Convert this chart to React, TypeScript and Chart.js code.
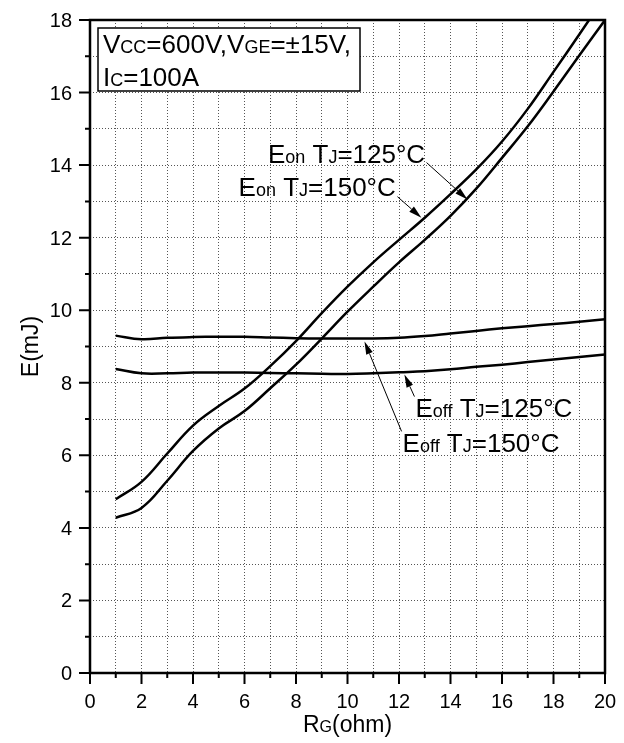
import React, { useEffect, useRef } from 'react';
import { Chart, registerables } from 'chart.js';

Chart.register(...registerables);

// ---- data ----
const rg = [1, 2, 3, 4, 5, 6, 7, 8, 9, 10, 11, 12, 13, 14, 15, 16, 17, 18, 19, 20];
const eon150 = [4.79, 5.27, 6.05, 6.82, 7.36, 7.84, 8.46, 9.15, 9.92, 10.65, 11.32, 11.94, 12.55, 13.2, 13.88, 14.65, 15.55, 16.57, 17.6, 18.65];
const eon125 = [4.28, 4.55, 5.3, 6.12, 6.74, 7.22, 7.85, 8.5, 9.22, 9.96, 10.65, 11.32, 11.94, 12.6, 13.35, 14.2, 15.07, 16.03, 17.02, 18.0];
const eoff150 = [9.3, 9.2, 9.24, 9.26, 9.27, 9.27, 9.25, 9.23, 9.22, 9.22, 9.22, 9.24, 9.29, 9.36, 9.43, 9.5, 9.56, 9.62, 9.68, 9.75];
const eoff125 = [8.38, 8.26, 8.26, 8.28, 8.28, 8.28, 8.27, 8.26, 8.25, 8.24, 8.26, 8.29, 8.32, 8.37, 8.44, 8.5, 8.57, 8.64, 8.71, 8.78];
const xTickLabels = [0, 2, 4, 6, 8, 10, 12, 14, 16, 18, 20];
const yTickLabels = [0, 2, 4, 6, 8, 10, 12, 14, 16, 18];

const FONT = "'Liberation Sans', Arial, sans-serif";
const BIG = 26;
const SMALL = 18;

type Run = [string, number];

const legendLines: Run[][] = [
  [['V', BIG], ['CC', SMALL], ['=600V,V', BIG], ['GE', SMALL], ['=\u00B115V,', BIG]],
  [['I', BIG], ['C', SMALL], ['=100A', BIG]],
];

// annotation anchors in data coordinates
const annotations: { runs: Run[]; at: [number, number]; from: [number, number]; to: [number, number] }[] = [
  { runs: [['E', BIG], ['on', SMALL], [' T', BIG], ['J', SMALL], ['=125\u00B0C', BIG]], at: [6.91, 14.06], from: [13.07, 14.07], to: [14.66, 13.05] },
  { runs: [['E', BIG], ['on', SMALL], [' T', BIG], ['J', SMALL], ['=150\u00B0C', BIG]], at: [5.77, 13.16], from: [11.94, 13.13], to: [12.87, 12.55] },
  { runs: [['E', BIG], ['off', SMALL], [' T', BIG], ['J', SMALL], ['=125\u00B0C', BIG]], at: [12.64, 7.07], from: [12.6, 7.62], to: [12.21, 8.23] },
  { runs: [['E', BIG], ['off', SMALL], [' T', BIG], ['J', SMALL], ['=150\u00B0C', BIG]], at: [12.14, 6.1], from: [12.1, 6.66], to: [10.66, 9.14] },
];

function drawRuns(ctx: CanvasRenderingContext2D, runs: Run[], x: number, y: number) {
  let cx = x;
  for (const [t, s] of runs) {
    ctx.font = `${s}px ${FONT}`;
    ctx.fillText(t, cx, y);
    cx += ctx.measureText(t).width;
  }
  return cx;
}

function runsWidth(ctx: CanvasRenderingContext2D, runs: Run[]) {
  let w = 0;
  for (const [t, s] of runs) {
    ctx.font = `${s}px ${FONT}`;
    w += ctx.measureText(t).width;
  }
  return w;
}

const decor = {
  id: 'decor',
  afterDraw(chart: any) {
    const ctx: CanvasRenderingContext2D = chart.ctx;
    const xs = chart.scales.x;
    const ys = chart.scales.y;
    const { left, right, top, bottom } = chart.chartArea;
    ctx.save();
    ctx.fillStyle = '#000';
    ctx.strokeStyle = '#000';

    // frame
    ctx.lineWidth = 2.5;
    ctx.strokeRect(left, top, right - left, bottom - top);

    // ticks
    ctx.lineWidth = 2;
    ctx.beginPath();
    xs.ticks.forEach((t: any) => {
      const px = xs.getPixelForValue(t.value);
      const major = xTickLabels.includes(t.value);
      ctx.moveTo(px, bottom);
      ctx.lineTo(px, bottom + (major ? 11 : 5));
    });
    ys.ticks.forEach((t: any) => {
      const py = ys.getPixelForValue(t.value);
      const major = yTickLabels.includes(t.value);
      ctx.moveTo(left, py);
      ctx.lineTo(left - (major ? 11 : 5), py);
    });
    ctx.stroke();

    // tick labels
    ctx.font = `20px ${FONT}`;
    ctx.textBaseline = 'alphabetic';
    ctx.textAlign = 'center';
    xTickLabels.forEach((v) => ctx.fillText(String(v), xs.getPixelForValue(v), bottom + 35));
    ctx.textAlign = 'right';
    yTickLabels.forEach((v) => ctx.fillText(String(v), left - 18, ys.getPixelForValue(v) + 7));

    // axis titles
    ctx.textAlign = 'left';
    const xt: Run[] = [['R', 23], ['G', 16], ['(ohm)', 23]];
    const xtw = runsWidth(ctx, xt);
    drawRuns(ctx, xt, (left + right) / 2 - xtw / 2, bottom + 59);
    ctx.save();
    ctx.translate(38, (top + bottom) / 2);
    ctx.rotate(-Math.PI / 2);
    ctx.font = `23px ${FONT}`;
    ctx.textAlign = 'center';
    ctx.fillText('E(mJ)', 0, 0);
    ctx.restore();

    // condition box
    ctx.textAlign = 'left';
    const bx = left + 8, by = top + 8, bw = 262, bh = 63;
    ctx.fillStyle = '#fff';
    ctx.fillRect(bx, by, bw, bh);
    ctx.fillStyle = '#000';
    ctx.lineWidth = 1.5;
    ctx.strokeRect(bx, by, bw, bh);
    drawRuns(ctx, legendLines[0], bx + 5, by + 25);
    drawRuns(ctx, legendLines[1], bx + 5, by + 58);

    // annotations with arrows
    ctx.lineWidth = 1;
    for (const a of annotations) {
      drawRuns(ctx, a.runs, xs.getPixelForValue(a.at[0]), ys.getPixelForValue(a.at[1]));
      const x1 = xs.getPixelForValue(a.from[0]), y1 = ys.getPixelForValue(a.from[1]);
      const x2 = xs.getPixelForValue(a.to[0]), y2 = ys.getPixelForValue(a.to[1]);
      const ang = Math.atan2(y2 - y1, x2 - x1);
      const L = 13, W = 3.5;
      const bxp = x2 - L * Math.cos(ang), byp = y2 - L * Math.sin(ang);
      ctx.beginPath();
      ctx.moveTo(x1, y1);
      ctx.lineTo(bxp, byp);
      ctx.stroke();
      ctx.beginPath();
      ctx.moveTo(x2, y2);
      ctx.lineTo(bxp + W * Math.sin(ang), byp - W * Math.cos(ang));
      ctx.lineTo(bxp - W * Math.sin(ang), byp + W * Math.cos(ang));
      ctx.closePath();
      ctx.fill();
    }
    ctx.restore();
  },
};

export default function App() {
  const ref = useRef<HTMLCanvasElement>(null);
  useEffect(() => {
    document.body.style.margin = '0';
    const canvas = ref.current!;
    const mk = (vals: number[]) => ({
      data: rg.map((x, i) => ({ x, y: vals[i] })),
      borderColor: '#000',
      borderWidth: 2.5,
      pointRadius: 0,
      fill: false,
      tension: 0.4,
    });
    const gridCommon = { color: '#555', lineWidth: 1, drawTicks: false };
    const chart = new Chart(canvas, {
      type: 'line',
      data: { datasets: [mk(eon125), mk(eon150), mk(eoff125), mk(eoff150)] },
      options: {
        animation: false,
        responsive: false,
        devicePixelRatio: 1,
        layout: { padding: { left: 90, top: 20, right: 19, bottom: 70 } },
        plugins: { legend: { display: false }, tooltip: { enabled: false } },
        scales: {
          x: {
            type: 'linear', min: 0, max: 20,
            ticks: { display: false, stepSize: 1 },
            grid: gridCommon,
            border: { display: false, dash: [1, 2] },
          },
          y: {
            type: 'linear', min: 0, max: 18,
            ticks: { display: false, stepSize: 1 },
            grid: gridCommon,
            border: { display: false, dash: [1, 2] },
          },
        },
      },
      plugins: [decor],
    });
    return () => chart.destroy();
  }, []);
  return <canvas ref={ref} width={624} height={743} style={{ display: 'block' }} />;
}
